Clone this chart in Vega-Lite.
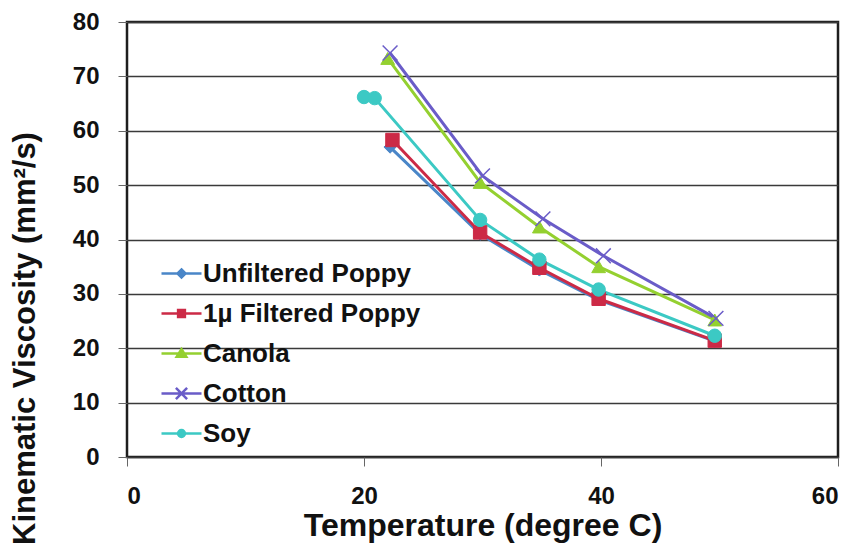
{
  "$schema": "https://vega.github.io/schema/vega-lite/v6.json",
  "width": 711,
  "height": 435,
  "autosize": {"type": "none"},
  "padding": {"left": 127, "top": 22, "right": 16, "bottom": 94},
  "background": "white",
  "config": {
    "view": {"stroke": "#1e1e1e", "strokeWidth": 2.5},
    "font": "Liberation Sans",
    "axis": {
      "labelFont": "Liberation Sans",
      "labelFontWeight": "bold",
      "labelFontSize": 24,
      "labelColor": "#111111",
      "titleFont": "Liberation Sans",
      "titleFontWeight": "bold",
      "titleFontSize": 31,
      "titleColor": "#111111",
      "domain": false,
      "tickColor": "#666666",
      "tickSize": 9,
      "tickWidth": 1
    }
  },
  "data": {
    "values": [
      {"series": "Unfiltered Poppy", "temp": 22.2, "visc": 57.0},
      {"series": "Unfiltered Poppy", "temp": 29.8, "visc": 41.0},
      {"series": "Unfiltered Poppy", "temp": 34.8, "visc": 34.4},
      {"series": "Unfiltered Poppy", "temp": 39.8, "visc": 28.9},
      {"series": "Unfiltered Poppy", "temp": 49.6, "visc": 21.3},
      {"series": "1µ Filtered Poppy", "temp": 22.4, "visc": 58.3},
      {"series": "1µ Filtered Poppy", "temp": 29.8, "visc": 41.3},
      {"series": "1µ Filtered Poppy", "temp": 34.8, "visc": 34.8},
      {"series": "1µ Filtered Poppy", "temp": 39.8, "visc": 29.1},
      {"series": "1µ Filtered Poppy", "temp": 49.6, "visc": 21.4},
      {"series": "Canola", "temp": 22.0, "visc": 73.3},
      {"series": "Canola", "temp": 29.8, "visc": 50.5},
      {"series": "Canola", "temp": 34.8, "visc": 42.3},
      {"series": "Canola", "temp": 39.8, "visc": 35.0},
      {"series": "Canola", "temp": 49.6, "visc": 25.2},
      {"series": "Cotton", "temp": 22.2, "visc": 74.3},
      {"series": "Cotton", "temp": 30.0, "visc": 51.7},
      {"series": "Cotton", "temp": 35.1, "visc": 43.8},
      {"series": "Cotton", "temp": 40.2, "visc": 37.0},
      {"series": "Cotton", "temp": 49.7, "visc": 25.5},
      {"series": "Soy", "temp": 20.0, "visc": 66.2},
      {"series": "Soy", "temp": 20.9, "visc": 66.0},
      {"series": "Soy", "temp": 29.8, "visc": 43.6},
      {"series": "Soy", "temp": 34.8, "visc": 36.3},
      {"series": "Soy", "temp": 39.8, "visc": 30.8},
      {"series": "Soy", "temp": 49.6, "visc": 22.3}
    ]
  },
  "encoding": {
    "x": {
      "field": "temp",
      "type": "quantitative",
      "scale": {"domain": [0, 60], "nice": false},
      "axis": {
        "values": [0, 20, 40, 60],
        "grid": false,
        "labelPadding": 18,
        "title": "Temperature (degree C)",
        "titleFontSize": 32,
        "titlePadding": 2
      }
    },
    "y": {
      "field": "visc",
      "type": "quantitative",
      "scale": {"domain": [0, 80], "nice": false},
      "axis": {
        "values": [0, 10, 20, 30, 40, 50, 60, 70, 80],
        "grid": true,
        "gridColor": "#3a3a3a",
        "gridWidth": 1.5,
        "labelPadding": 19,
        "title": "Kinematic Viscosity (mm²/s)",
        "titleY": 316,
        "titlePadding": 31
      }
    },
    "color": {
      "field": "series",
      "type": "nominal",
      "sort": ["Unfiltered Poppy", "1µ Filtered Poppy", "Canola", "Cotton", "Soy"],
      "scale": {
        "domain": ["Unfiltered Poppy", "1µ Filtered Poppy", "Canola", "Cotton", "Soy"],
        "range": ["#4a86c8", "#cc2a46", "#94d030", "#6a5cc8", "#3cc9c4"]
      },
      "legend": null
    }
  },
  "layer": [
    {
      "mark": {"type": "line", "strokeWidth": 3},
      "encoding": {
        "color": {
          "field": "series",
          "type": "nominal",
          "sort": ["Unfiltered Poppy", "1µ Filtered Poppy", "Canola", "Cotton", "Soy"],
          "legend": {
            "orient": "none",
            "legendX": 33,
            "legendY": 230,
            "title": null,
            "padding": 0,
            "symbolSize": 1600,
            "symbolStrokeWidth": 2.5,
            "rowPadding": 5,
            "labelOffset": 0,
            "labelLimit": 400,
            "labelFont": "Liberation Sans",
            "labelFontWeight": "bold",
            "labelFontSize": 26,
            "labelColor": "#111111",
            "encode": {
              "symbols": {
                "update": {
                  "fill": {"scale": "color", "field": "value"},
                  "stroke": {"scale": "color", "field": "value"},
                  "strokeWidth": {"value": 2.5},
                  "shape": {
                    "signal": "datum.value === 'Unfiltered Poppy' ? 'M-1,0H1M0,-0.2L0.2,0L0,0.2L-0.2,0Z' : datum.value === 'Canola' ? 'M-1,0H1M0,-0.22L0.24,0.16L-0.24,0.16Z' : datum.value === 'Cotton' ? 'M-1,0H1M-0.28,-0.28L0.28,0.28M0.28,-0.28L-0.28,0.28' : datum.value === 'Soy' ? 'M-1,0H1M-0.17,0A0.17,0.17 0 1,0 0.17,0A0.17,0.17 0 1,0 -0.17,0Z' : 'M-1,0H1M-0.17,-0.17H0.17V0.17H-0.17Z'"
                  }
                }
              }
            }
          }
        }
      }
    },
    {
      "transform": [{"filter": "datum.series === 'Unfiltered Poppy'"}],
      "mark": {"type": "point", "shape": "diamond", "filled": true, "opacity": 1, "size": 150, "stroke": "#4a86c8", "strokeWidth": 1}
    },
    {
      "transform": [{"filter": "datum.series === '1µ Filtered Poppy'"}],
      "mark": {"type": "point", "shape": "square", "filled": true, "opacity": 1, "size": 180, "stroke": "#cc2a46", "strokeWidth": 1}
    },
    {
      "transform": [{"filter": "datum.series === 'Canola'"}],
      "mark": {"type": "point", "shape": "triangle-up", "filled": true, "opacity": 1, "size": 190, "stroke": "#94d030", "strokeWidth": 1}
    },
    {
      "transform": [{"filter": "datum.series === 'Cotton'"}],
      "mark": {"type": "point", "shape": "M-1,-1L1,1M1,-1L-1,1", "filled": false, "opacity": 1, "size": 220, "stroke": "#6a5cc8", "strokeWidth": 1.5}
    },
    {
      "transform": [{"filter": "datum.series === 'Soy'"}],
      "mark": {"type": "point", "shape": "circle", "filled": true, "opacity": 1, "size": 180, "stroke": "#3cc9c4", "strokeWidth": 1}
    }
  ]
}
